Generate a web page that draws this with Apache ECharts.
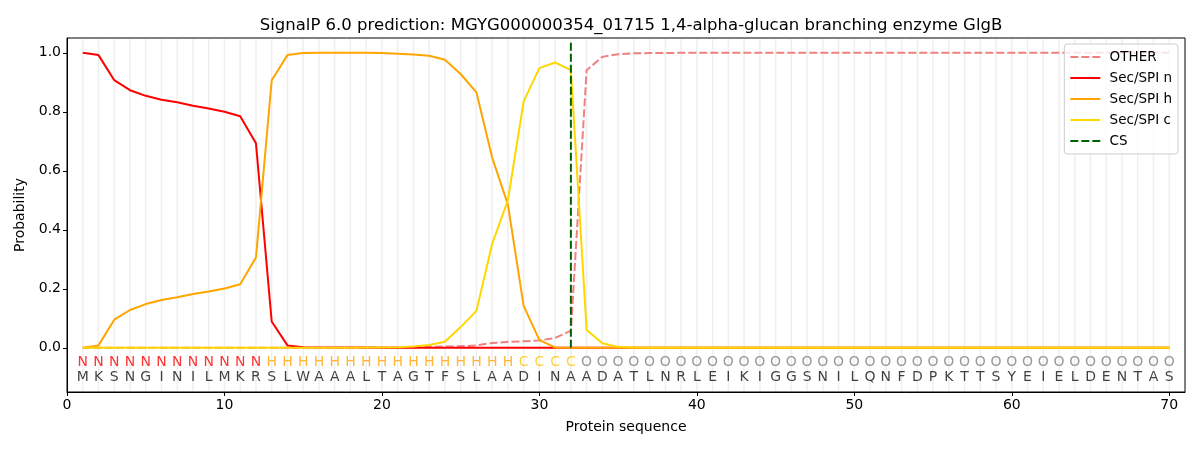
<!DOCTYPE html>
<html>
<head>
<meta charset="utf-8">
<script src="https://cdn.jsdelivr.net/npm/echarts@6/dist/echarts.min.js"></script>
<style>
  html, body { margin: 0; padding: 0; background: #fff; }
  #chart { width: 1200px; height: 450px; }
</style>
</head>
<body>
<div id="chart"></div>
<script>
// sequence and per-residue labels
var sequence = "MKSNGINILMKRSLWAAALTAGTFSLAADINAADATLNRLEIKIGGSNILQNFDPKTTSYEIELDENTAS".split("");
var regionLabels = "NNNNNNNNNNNNHHHHHHHHHHHHHHHHCCCCOOOOOOOOOOOOOOOOOOOOOOOOOOOOOOOOOOOOOO".split("");
var labelColors = { N: "#ff0000", H: "#ffa500", C: "#ffc800", O: "#808080" };

// probabilities per position 1..70
var otherProb = [0.000, 0.000, 0.000, 0.000, 0.000, 0.000, 0.000, 0.000, 0.000, 0.000,
    0.000, 0.000, 0.000, 0.000, 0.000, 0.000, 0.000, 0.000, 0.000, 0.001,
    0.001, 0.002, 0.003, 0.004, 0.005, 0.008, 0.016, 0.020, 0.022, 0.025,
    0.033, 0.058, 0.941, 0.986, 0.995, 0.998, 0.999, 0.999, 1.000, 1.000,
    1.000, 1.000, 1.000, 1.000, 1.000, 1.000, 1.000, 1.000, 1.000, 1.000,
    1.000, 1.000, 1.000, 1.000, 1.000, 1.000, 1.000, 1.000, 1.000, 1.000,
    1.000, 1.000, 1.000, 1.000, 1.000, 1.000, 1.000, 1.000, 1.000, 1.000];
var secN = [1.000, 0.992, 0.907, 0.873, 0.854, 0.841, 0.832, 0.820, 0.811, 0.800,
    0.785, 0.693, 0.089, 0.008, 0.002, 0.001, 0.001, 0.001, 0.001, 0.000,
    0.000, 0.000, 0.000, 0.000, 0.000, 0.000, 0.000, 0.000, 0.000, 0.000,
    0.000, 0.000, 0.000, 0.000, 0.000, 0.000, 0.000, 0.000, 0.000, 0.000,
    0.000, 0.000, 0.000, 0.000, 0.000, 0.000, 0.000, 0.000, 0.000, 0.000,
    0.000, 0.000, 0.000, 0.000, 0.000, 0.000, 0.000, 0.000, 0.000, 0.000,
    0.000, 0.000, 0.000, 0.000, 0.000, 0.000, 0.000, 0.000, 0.000, 0.000];
var secH = [0.000, 0.008, 0.095, 0.128, 0.148, 0.162, 0.171, 0.182, 0.191, 0.201,
    0.215, 0.306, 0.907, 0.992, 0.999, 1.000, 1.000, 1.000, 1.000, 0.999,
    0.997, 0.994, 0.990, 0.976, 0.928, 0.866, 0.645, 0.485, 0.142, 0.026,
    0.001, 0.000, 0.000, 0.000, 0.000, 0.000, 0.000, 0.000, 0.000, 0.000,
    0.000, 0.000, 0.000, 0.000, 0.000, 0.000, 0.000, 0.000, 0.000, 0.000,
    0.000, 0.000, 0.000, 0.000, 0.000, 0.000, 0.000, 0.000, 0.000, 0.000,
    0.000, 0.000, 0.000, 0.000, 0.000, 0.000, 0.000, 0.000, 0.000, 0.000];
var secC = [0.000, 0.000, 0.000, 0.000, 0.000, 0.000, 0.000, 0.000, 0.000, 0.000,
    0.000, 0.000, 0.000, 0.000, 0.000, 0.000, 0.000, 0.000, 0.001, 0.001,
    0.002, 0.004, 0.009, 0.020, 0.070, 0.125, 0.352, 0.500, 0.835, 0.948,
    0.967, 0.941, 0.060, 0.015, 0.003, 0.001, 0.000, 0.000, 0.000, 0.000,
    0.000, 0.000, 0.000, 0.000, 0.000, 0.000, 0.000, 0.000, 0.000, 0.000,
    0.000, 0.000, 0.000, 0.000, 0.000, 0.000, 0.000, 0.000, 0.000, 0.000,
    0.000, 0.000, 0.000, 0.000, 0.000, 0.000, 0.000, 0.000, 0.000, 0.000];
var csPos = 32;
var xTicks = [0, 10, 20, 30, 40, 50, 60, 70];
var yTicks = [0, 0.2, 0.4, 0.6, 0.8, 1.0];
var yMin = -0.15, yMax = 1.05;

var font = "DejaVu Sans";

//把数组转成 [x, y] 点
function toPoints(arr) {
    var pts = [];
    for (var i = 0; i < arr.length; i++) {
        pts.push([i + 1, arr[i]]);
    }
    return pts;
}

//序列下方的文字
function textPoints(chars, y, colorOf) {
    var pts = [];
    for (var i = 0; i < chars.length; i++) {
        pts.push({
            value: [i + 1, y],
            label: { color: colorOf(chars[i]) }
        });
    }
    return pts;
}

//每个残基的位置 (竖线用)
function residuePositions(chars) {
    var arr = [];
    for (var i = 0; i < chars.length; i++) {
        arr.push([i + 1]);
    }
    return arr;
}

function lineSeries(name, arr, color, dashed) {
    return {
        name: name,
        type: "line",
        data: toPoints(arr),
        symbol: "none",
        showSymbol: false,
        lineStyle: { color: color, width: 2, type: dashed ? [8, 3] : "solid" },
        itemStyle: { color: color },
        animation: false
    };
}

function textSeries(chars, y, colorOf) {
    return {
        type: "scatter",
        data: textPoints(chars, y, colorOf),
        symbolSize: 0,
        silent: true,
        animation: false,
        z: 3,
        label: {
            show: true,
            position: "inside",
            fontFamily: font,
            fontSize: 14,
            formatter: function(p) { return chars[p.dataIndex]; }
        }
    };
}

var chart = echarts.init(document.getElementById("chart"));

chart.setOption({
    animation: false,
    title: {
        text: "SignalP 6.0 prediction: MGYG000000354_01715 1,4-alpha-glucan branching enzyme GlgB",
        left: 626,
        textAlign: "center",
        top: 12,
        textStyle: { fontFamily: font, fontSize: 16.5, fontWeight: "normal", color: "#000" }
    },
    grid: {
        left: 67, right: 15, top: 38, bottom: 58,
        show: true, borderColor: "#000", borderWidth: 1, backgroundColor: "transparent"
    },
    legend: {
        data: ["OTHER", "Sec/SPI n", "Sec/SPI h", "Sec/SPI c", "CS"],
        orient: "vertical",
        right: 22, top: 44,
        itemWidth: 30, itemHeight: 14, itemGap: 7,
        padding: [6, 6, 6, 5],
        backgroundColor: "rgba(255,255,255,0.8)",
        borderColor: "#cccccc", borderWidth: 1, borderRadius: 3,
        itemStyle: { opacity: 0 },
        formatter: function(name) { return " " + name; },
        textStyle: { fontFamily: font, fontSize: 13.5, color: "#000" }
    },
    xAxis: {
        type: "value", min: 0, max: 71,
        name: "Protein sequence", nameLocation: "middle", nameGap: 28,
        nameTextStyle: { fontFamily: font, fontSize: 14, color: "#000" },
        axisLine: { onZero: false, lineStyle: { color: "#000" } },
        axisTick: { customValues: xTicks, length: 4, lineStyle: { color: "#000" } },
        axisLabel: { customValues: xTicks, fontFamily: font, fontSize: 14, color: "#000", margin: 6 },
        splitLine: { show: false }
    },
    yAxis: {
        type: "value", min: yMin, max: yMax,
        name: "Probability", nameLocation: "middle", nameGap: 35,
        nameTextStyle: { fontFamily: font, fontSize: 14, color: "#000" },
        axisLine: { lineStyle: { color: "#000" } },
        axisTick: { customValues: yTicks, length: 4, lineStyle: { color: "#000" } },
        axisLabel: {
            customValues: yTicks, fontFamily: font, fontSize: 14, color: "#000", margin: 6,
            formatter: function(v) { return v.toFixed(1); }
        },
        splitLine: { show: false }
    },
    series: [
        {
            //浅灰色竖线
            type: "custom", z: -1, silent: true, animation: false,
            data: residuePositions(sequence),
            renderItem: function(params, api) {
                var top = api.coord([api.value(0), yMax]);
                var bottom = api.coord([api.value(0), yMin]);
                return {
                    type: "line",
                    shape: { x1: top[0], y1: top[1] + 1, x2: bottom[0], y2: bottom[1] - 1 },
                    style: { stroke: "#efefef", lineWidth: 1.5 }
                };
            }
        },
        lineSeries("OTHER", otherProb, "#f08080", true),
        lineSeries("Sec/SPI n", secN, "#ff0000", false),
        lineSeries("Sec/SPI h", secH, "#ffa500", false),
        lineSeries("Sec/SPI c", secC, "#ffd700", false),
        {
            name: "CS", type: "line", symbol: "none", showSymbol: false, animation: false,
            data: [[csPos, 0], [csPos, 1.04]],
            lineStyle: { color: "#006400", width: 2, type: [8, 3] },
            itemStyle: { color: "#006400" }
        },
        textSeries(regionLabels, -0.05, function(c) { return labelColors[c]; }),
        textSeries(sequence, -0.1, function(c) { return "#111"; })
    ]
});
</script>
</body>
</html>
